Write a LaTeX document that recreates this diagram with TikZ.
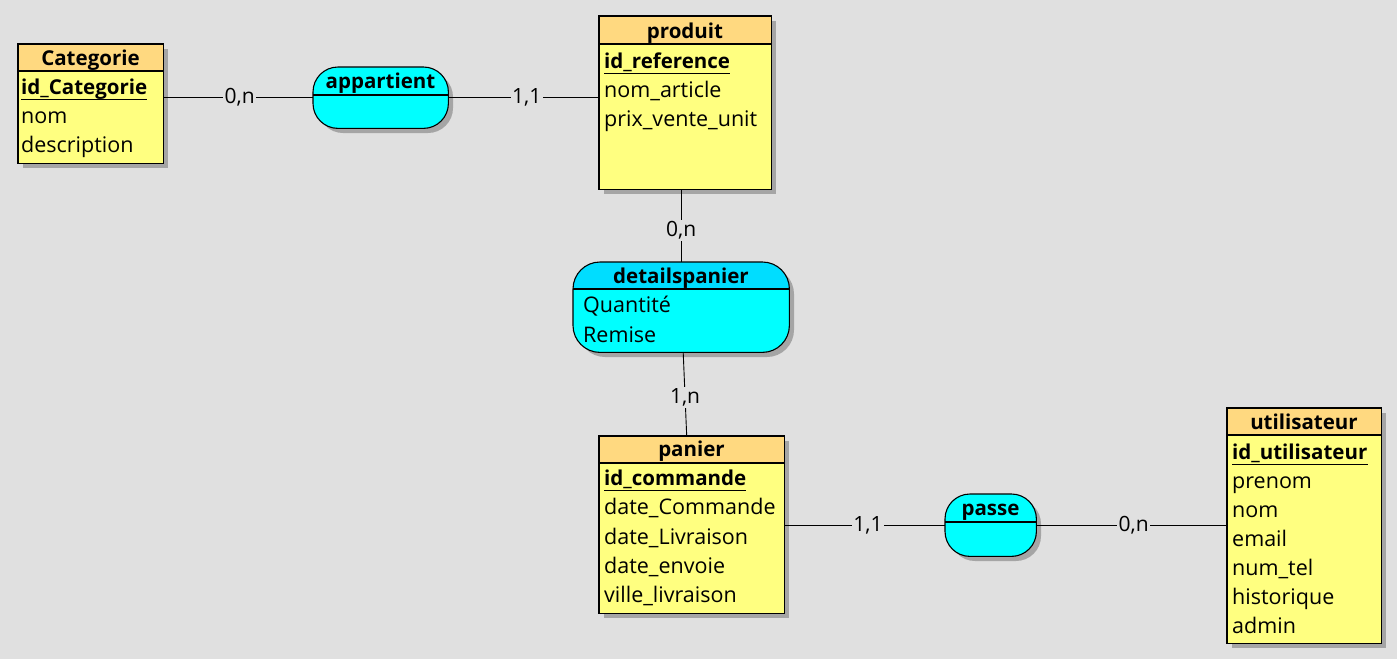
\documentclass[tikz,border=0pt]{standalone}
\usepackage{fontspec}
\setmainfont{Open Sans}
\definecolor{bg}{RGB}{224,224,224}
\definecolor{headY}{RGB}{255,217,128}
\definecolor{bodyY}{RGB}{255,255,128}
\definecolor{assoC}{RGB}{0,255,255}
\definecolor{assoH}{RGB}{0,221,255}
\definecolor{shad}{RGB}{165,165,165}
\tikzset{
  entbox/.style={rectangle, inner sep=0pt, anchor=north west, fill=bodyY},
  assobox/.style={rectangle, inner sep=0pt, anchor=north west},
  ttl/.style={font=\fontsize{20.5}{24}\selectfont\bfseries, inner sep=0pt, anchor=base},
  attr/.style={font=\fontsize{21.5}{25}\selectfont, inner sep=0pt, anchor=base west},
  idattr/.style={font=\fontsize{20.5}{24}\selectfont\bfseries, inner sep=0pt, anchor=base west},
  card/.style={font=\fontsize{21}{24}\selectfont, fill=bg, inner sep=1.5pt},
  link/.style={draw=black, line width=0.9pt},
  border/.style={draw=black, line width=1.1pt},
  uline/.style={line width=0.9pt},
}
\begin{document}
\begin{tikzpicture}[x=1pt,y=-1pt]
\fill[bg] (0,0) rectangle (1397,659);
\useasboundingbox (0,0) rectangle (1397,659);

% ---------- Categorie ----------
\fill[shad] (23,49) rectangle (168,168);
\node[entbox, minimum width=145pt, minimum height=119pt] (cat) at (18,44) {};
\fill[headY] (cat.north west) rectangle ([yshift=-27pt]cat.north east);
\draw[border] ([yshift=-27pt]cat.north west) -- ([yshift=-27pt]cat.north east);
\draw[border] (cat.north west) rectangle (cat.south east);
\node[ttl] (catT) at (90.5,65) {Categorie};
\node[idattr] (catA1) at (21,94) {id\_Categorie};
\draw[uline] ([yshift=-5pt]catA1.base west) -- ([yshift=-5pt]catA1.base east);
\node[attr] (catA2) at (21,123) {nom};
\node[attr] (catA3) at (21,152) {description};

% ---------- produit ----------
\fill[shad] (604,21) rectangle (776,194);
\node[entbox, minimum width=172pt, minimum height=173pt] (prod) at (599,16) {};
\fill[headY] (prod.north west) rectangle ([yshift=-28pt]prod.north east);
\draw[border] ([yshift=-28pt]prod.north west) -- ([yshift=-28pt]prod.north east);
\draw[border] (prod.north west) rectangle (prod.south east);
\node[ttl] (prodT) at (685,38) {produit};
\node[idattr] (prodA1) at (604,68) {id\_reference};
\draw[uline] ([yshift=-5pt]prodA1.base west) -- ([yshift=-5pt]prodA1.base east);
\node[attr] (prodA2) at (604,97) {nom\_article};
\node[attr] (prodA3) at (604,126) {prix\_vente\_unit};

% ---------- panier ----------
\fill[shad] (604,441) rectangle (789,618);
\node[entbox, minimum width=185pt, minimum height=177pt] (pan) at (599,436) {};
\fill[headY] (pan.north west) rectangle ([yshift=-27pt]pan.north east);
\draw[border] ([yshift=-27pt]pan.north west) -- ([yshift=-27pt]pan.north east);
\draw[border] (pan.north west) rectangle (pan.south east);
\node[ttl] (panT) at (691.5,456) {panier};
\node[idattr] (panA1) at (604,485) {id\_commande};
\draw[uline] ([yshift=-5pt]panA1.base west) -- ([yshift=-5pt]panA1.base east);
\node[attr] (panA2) at (604,514) {date\_Commande};
\node[attr] (panA3) at (604,544) {date\_Livraison};
\node[attr] (panA4) at (604,573) {date\_envoie};
\node[attr] (panA5) at (604,602) {ville\_livraison};

% ---------- utilisateur ----------
\fill[shad] (1232,413) rectangle (1386,648);
\node[entbox, minimum width=154pt, minimum height=235pt] (usr) at (1227,408) {};
\fill[headY] (usr.north west) rectangle ([yshift=-27pt]usr.north east);
\draw[border] ([yshift=-27pt]usr.north west) -- ([yshift=-27pt]usr.north east);
\draw[border] (usr.north west) rectangle (usr.south east);
\node[ttl] (usrT) at (1304,429) {utilisateur};
\node[idattr] (usrA1) at (1232,459) {id\_utilisateur};
\draw[uline] ([yshift=-5pt]usrA1.base west) -- ([yshift=-5pt]usrA1.base east);
\node[attr] (usrA2) at (1232,488) {prenom};
\node[attr] (usrA3) at (1232,517) {nom};
\node[attr] (usrA4) at (1232,546) {email};
\node[attr] (usrA5) at (1232,575) {num\_tel};
\node[attr] (usrA6) at (1232,604) {historique};
\node[attr] (usrA7) at (1232,633) {admin};

% ---------- appartient ----------
\fill[shad, rounded corners=25pt] (318,72) rectangle (453,133);
\node[assobox, minimum width=135pt, minimum height=61pt] (app) at (313,67) {};
\begin{scope}
\clip[rounded corners=25pt] (app.north west) rectangle (app.south east);
\fill[assoC] (app.north west) rectangle (app.south east);
\draw[border] ([yshift=-28pt]app.north west) -- ([yshift=-28pt]app.north east);
\end{scope}
\draw[border, rounded corners=25pt] (app.north west) rectangle (app.south east);
\node[ttl] (appT) at (380.5,88) {appartient};

% ---------- detailspanier ----------
\fill[shad, rounded corners=27pt] (578,267) rectangle (794,357);
\node[assobox, minimum width=216pt, minimum height=90pt] (det) at (573,262) {};
\begin{scope}
\clip[rounded corners=27pt] (det.north west) rectangle (det.south east);
\fill[assoC] (det.north west) rectangle (det.south east);
\fill[assoH] (det.north west) rectangle ([yshift=-27pt]det.north east);
\draw[border] ([yshift=-27pt]det.north west) -- ([yshift=-27pt]det.north east);
\end{scope}
\draw[border, rounded corners=27pt] (det.north west) rectangle (det.south east);
\node[ttl] (detT) at (681,283) {detailspanier};
\node[attr] (detA1) at (583,312) {Quantité};
\node[attr] (detA2) at (583,342) {Remise};

% ---------- passe ----------
\fill[shad, rounded corners=25pt] (950,499) rectangle (1041,561);
\node[assobox, minimum width=91pt, minimum height=62pt] (pas) at (945,494) {};
\begin{scope}
\clip[rounded corners=25pt] (pas.north west) rectangle (pas.south east);
\fill[assoC] (pas.north west) rectangle (pas.south east);
\draw[border] ([yshift=-28pt]pas.north west) -- ([yshift=-28pt]pas.north east);
\end{scope}
\draw[border, rounded corners=25pt] (pas.north west) rectangle (pas.south east);
\node[ttl] (pasT) at (990.5,515) {passe};

% ---------- connectors ----------
\draw[link] (cat.east |- app.west) -- node[card, pos=0.51] (c1) {0,n} (app.west);
\draw[link] (app.east) -- node[card, pos=0.52] (c2) {1,1} (prod.west |- app.east);
\draw[link] (prod.south -| det.north) -- node[card, pos=0.56] (c3) {0,n} (det.north);
\draw[link] ([xshift=2pt]det.south) -- node[card, pos=0.54] (c4) {1,n} ([xshift=-5pt]pan.north);
\draw[link] (pan.east |- pas.west) -- node[card, pos=0.52] (c5) {1,1} (pas.west);
\draw[link] (pas.east) -- node[card, pos=0.51] (c6) {0,n} (usr.west |- pas.east);
\end{tikzpicture}
\end{document}
